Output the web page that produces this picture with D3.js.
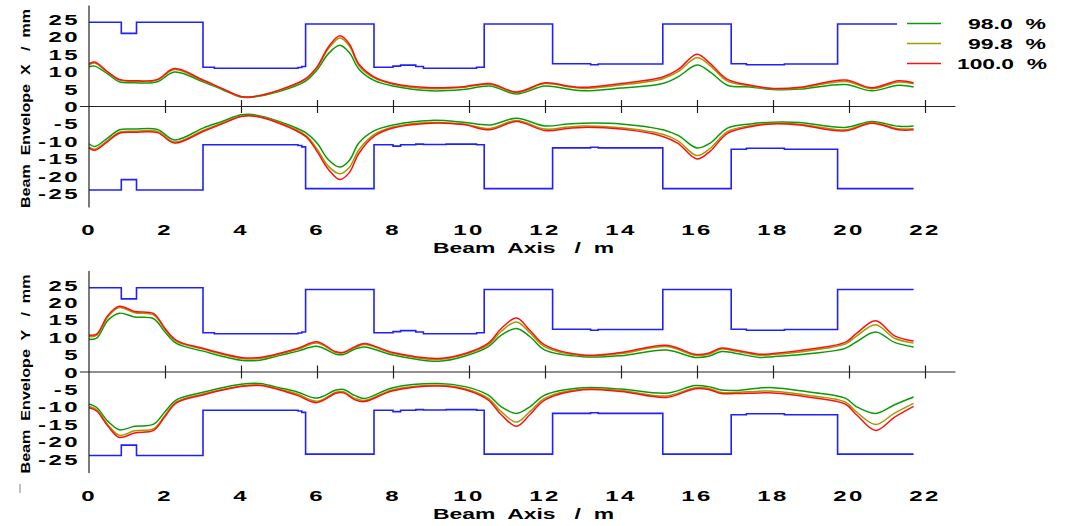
<!DOCTYPE html>
<html>
<head>
<meta charset="utf-8">
<script src="https://cdn.jsdelivr.net/npm/d3@7"></script>
<style>
  body { margin: 0; background: #fff; }
  svg { display: block; }
  text { font-family: "Liberation Sans", Arial, sans-serif; font-weight: bold; fill: #000; white-space: pre; }
</style>
</head>
<body>
<div id="chart"></div>
<script>
// beam envelope, X and Y plane, three emittance fractions

const legendNames = ["98.0  %", "99.8  %", "100.0  %"];
const xTickLabels = [0, 2, 4, 6, 8, 10, 12, 14, 16, 18, 20, 22];
const yTickLabels = [25, 20, 15, 10, 5, 0, -5, -10, -15, -20, -25];

// aperture (step, value holds until next break)
const apS  = [0, 0.85, 1.25, 3.0, 3.3, 5.5, 5.6, 5.7, 7.5, 8.0, 8.2, 8.6, 8.8, 9.4, 10.2, 10.4, 12.2, 13.2, 13.4, 15.1, 16.9, 17.3, 18.3, 19.7, 21.7];
const apUp = [24.2, 21.0, 24.2, 11.3, 11.0, 11.2, 11.5, 23.7, 11.3, 11.6, 11.9, 11.5, 11.0, 11.0, 11.3, 23.7, 12.3, 12.0, 12.2, 23.7, 12.3, 12.0, 12.2, 23.7, 23.7];
const apLo = [-24.0, -21.0, -24.0, -11.0, -11.0, -11.2, -11.6, -23.6, -11.0, -11.4, -11.0, -10.8, -10.9, -10.8, -11.0, -23.6, -11.9, -11.7, -11.9, -23.6, -12.3, -12.0, -12.3, -23.6, -23.6];

// X plane
const sX = [0, 0.15, 0.5, 0.8, 1.2, 1.8, 2.25, 3.0, 3.5, 4.0, 4.3, 5.0, 5.7, 6.0, 6.3, 6.6, 6.85, 7.1, 7.5, 8.0, 9.0, 9.85, 10.55, 11.25, 12.0, 12.6, 13.0, 14.0, 15.1, 15.5, 16.0, 16.35, 16.8, 17.4, 18.0, 18.7, 19.9, 20.6, 21.3, 21.7];
const xUp98  = [11.4, 11.6, 9.3, 7.1, 6.8, 7.1, 9.9, 7.1, 4.9, 2.7, 2.7, 4.3, 7.3, 10.5, 15.2, 17.6, 15.5, 10.8, 7.5, 5.9, 4.5, 4.9, 5.9, 3.6, 5.9, 5.0, 4.5, 5.3, 6.6, 8.5, 11.9, 9.9, 6.1, 5.6, 4.9, 5.0, 6.3, 4.5, 6.1, 5.6];
const xUp998 = [12.0, 12.5, 9.7, 7.6, 7.2, 7.6, 10.6, 7.4, 5.1, 2.8, 2.8, 4.6, 7.8, 11.1, 16.6, 19.7, 17.4, 11.8, 8.2, 6.4, 5.1, 5.5, 6.4, 4.0, 6.6, 5.7, 5.2, 6.2, 8.0, 10.0, 14.0, 11.7, 7.3, 5.9, 5.1, 5.3, 7.2, 5.1, 7.0, 6.5];
const xUp100 = [12.3, 12.8, 9.9, 7.8, 7.4, 7.8, 10.9, 7.6, 5.2, 2.9, 2.8, 4.7, 8.0, 11.4, 17.1, 20.3, 18.0, 12.2, 8.5, 6.6, 5.4, 5.7, 6.6, 4.2, 6.8, 5.9, 5.5, 6.6, 8.5, 10.6, 15.0, 12.3, 7.8, 6.1, 5.2, 5.5, 7.6, 5.4, 7.4, 6.8];
const xLo98  = [-10.7, -11.5, -9.0, -6.7, -6.5, -6.6, -9.6, -6.2, -4.3, -2.4, -2.3, -4.3, -7.5, -10.5, -15.3, -17.4, -15.5, -10.5, -7.0, -5.3, -4.0, -4.5, -5.3, -3.4, -5.6, -5.0, -4.8, -5.0, -6.7, -8.3, -11.9, -10.5, -6.2, -5.0, -4.5, -4.6, -6.0, -4.3, -5.7, -5.6];
const xLo998 = [-11.6, -12.3, -9.7, -7.4, -7.1, -7.2, -10.2, -6.9, -4.8, -2.8, -2.6, -4.6, -8.3, -12.2, -17.2, -19.3, -17.5, -12.5, -8.1, -5.9, -4.6, -5.0, -6.3, -4.0, -6.5, -5.9, -5.6, -6.1, -8.0, -9.9, -14.1, -12.0, -7.2, -5.5, -4.8, -5.1, -6.7, -4.6, -6.4, -6.4];
const xLo100 = [-11.9, -12.6, -10.0, -7.7, -7.4, -7.5, -10.5, -7.2, -5.0, -2.9, -2.7, -4.8, -8.6, -12.9, -18.1, -21.0, -19.0, -13.5, -8.6, -6.2, -4.8, -5.2, -6.7, -4.3, -6.9, -6.3, -6.0, -6.5, -8.6, -10.6, -15.1, -12.8, -7.7, -5.8, -5.0, -5.3, -7.0, -4.8, -6.7, -6.7];

// Y plane
const sY = [0, 0.2, 0.5, 0.8, 1.2, 1.7, 2.0, 2.3, 3.0, 4.0, 4.5, 5.0, 5.5, 6.0, 6.5, 6.7, 7.0, 7.25, 8.0, 9.2, 9.9, 10.5, 10.85, 11.25, 11.6, 12.0, 13.0, 14.0, 15.2, 15.95, 16.3, 16.65, 17.0, 17.65, 18.0, 19.0, 19.9, 20.2, 20.7, 21.2, 21.7];
const yUp98  = [9.4, 9.7, 14.9, 16.9, 15.8, 15.3, 11.5, 8.2, 6.0, 3.4, 3.4, 4.7, 6.0, 7.4, 5.1, 5.0, 6.6, 7.2, 4.9, 3.1, 4.6, 7.2, 10.6, 12.5, 10.2, 6.3, 4.4, 4.7, 6.3, 4.2, 4.5, 5.9, 5.4, 4.2, 4.4, 5.3, 6.8, 8.7, 11.5, 8.5, 7.2];
const yUp998 = [10.2, 10.5, 15.9, 18.5, 17.0, 16.4, 12.2, 8.8, 6.6, 3.9, 3.9, 5.1, 6.5, 8.3, 5.6, 5.5, 7.0, 7.9, 5.4, 3.6, 5.1, 7.8, 11.7, 14.4, 11.3, 7.2, 4.7, 5.3, 7.3, 4.8, 5.1, 6.6, 6.0, 4.8, 5.0, 6.2, 8.0, 10.3, 13.6, 9.7, 8.3];
const yUp100 = [10.6, 10.9, 16.3, 18.9, 17.4, 16.8, 12.5, 9.1, 6.8, 4.2, 4.2, 5.3, 6.8, 8.7, 5.8, 5.7, 7.3, 8.2, 5.6, 3.9, 5.3, 8.2, 12.5, 15.5, 12.0, 7.7, 4.9, 5.6, 7.7, 5.1, 5.4, 6.9, 6.3, 5.1, 5.3, 6.6, 8.5, 11.1, 14.7, 10.4, 8.9];
const yLo98  = [-9.2, -10.2, -14.2, -16.6, -15.6, -15.0, -11.4, -8.0, -5.8, -3.5, -3.3, -4.5, -5.8, -7.5, -5.2, -5.0, -6.8, -7.6, -4.5, -3.3, -4.2, -6.6, -10.0, -11.9, -10.0, -6.6, -4.5, -4.9, -6.1, -3.9, -4.2, -5.2, -5.3, -4.6, -4.5, -5.8, -7.5, -10.0, -11.9, -9.4, -7.2];
const yLo998 = [-9.9, -10.8, -15.2, -18.2, -16.9, -16.3, -12.4, -8.6, -6.3, -4.0, -3.7, -4.9, -6.4, -8.4, -5.8, -5.7, -7.6, -8.2, -5.1, -3.8, -4.8, -7.5, -11.4, -14.4, -11.4, -7.5, -4.9, -5.3, -6.9, -4.5, -4.7, -5.9, -5.9, -5.5, -5.5, -6.8, -8.6, -11.5, -15.1, -11.8, -9.0];
const yLo100 = [-10.3, -11.2, -15.6, -18.8, -17.5, -16.8, -12.8, -8.9, -6.6, -4.2, -3.9, -5.1, -6.8, -8.8, -6.1, -6.0, -8.0, -8.5, -5.4, -4.0, -5.1, -8.0, -12.3, -15.6, -12.3, -8.0, -5.1, -5.6, -7.3, -4.8, -5.0, -6.2, -6.2, -6.0, -6.0, -7.3, -9.2, -12.3, -16.8, -13.0, -9.9];

const colors = ["#0c9a0c", "#a09a00", "#ff1010"];
const apColor = "#2020ff";

const width = 1067, height = 526;
const leftX = 89, rightX = 925;
const panelOff = 265.5;

const svg = d3.select('#chart').append('svg')
    .attr('width', width)
    .attr('height', height);

const x = d3.scaleLinear().domain([0, 22]).range([leftX, rightX]);

const panels = [
    { off: 0, title: "Beam  Envelope  X   /  mm", s: sX,
      up: [xUp98, xUp998, xUp100], lo: [xLo98, xLo998, xLo100] },
    { off: panelOff, title: "Beam  Envelope  Y   /  mm", s: sY,
      up: [yUp98, yUp998, yUp100], lo: [yLo98, yLo998, yLo100] }
];

function stretchText(g, tx, ty, str, anchor, sx) {
    g.append('text')
        .attr('transform', `translate(${tx},${ty}) scale(${sx},1)`)
        .attr('text-anchor', anchor)
        .style('font-size', '15px')
        .style('letter-spacing', '1.5px')
        .text(str);
}

panels.forEach(p => {
    const y = d3.scaleLinear().domain([-25, 25]).range([193.5 + p.off, 19.5 + p.off]);
    const g = svg.append('g');

    // aperture
    const apLine = d3.line()
        .x((d, i) => x(apS[i]))
        .y(d => y(d))
        .curve(d3.curveStepAfter);
    [apUp, apLo].forEach(a => {
        g.append('path')
            .attr('d', apLine(a))
            .attr('fill', 'none')
            .attr('stroke', apColor)
            .attr('stroke-width', 1.6);
    });

    // envelopes
    const envLine = d3.line()
        .x((d, i) => x(p.s[i]))
        .y(d => y(d))
        .curve(d3.curveCatmullRom.alpha(0.5));
    for (let k = 0; k < 3; k++) {
        [p.up[k], p.lo[k]].forEach(arr => {
            g.append('path')
                .attr('d', envLine(arr))
                .attr('fill', 'none')
                .attr('stroke', colors[k])
                .attr('stroke-width', 1.5);
        });
    }

    // zero line + ticks
    g.append('line')
        .attr('x1', x(-0.24)).attr('x2', x(22.8))
        .attr('y1', y(0)).attr('y2', y(0))
        .attr('stroke', '#222').attr('stroke-width', 1.2);

    const xAxis = d3.axisBottom(x)
        .tickValues(d3.range(2, 23, 2))
        .tickSize(13)
        .tickFormat("");
    const ax = g.append('g')
        .attr('transform', `translate(0,${y(0) - 6.5})`)
        .call(xAxis);
    ax.select('.domain').remove();
    ax.selectAll('.tick line').attr('stroke', '#222').attr('stroke-width', 1.2);

    // y axis line
    g.append('line')
        .attr('x1', x(0)).attr('x2', x(0))
        .attr('y1', y(29)).attr('y2', y(-29))
        .attr('stroke', '#222').attr('stroke-width', 1.2);

    yTickLabels.forEach(v => {
        stretchText(g, 80, y(v) + 5.5, v, 'end', 1.6);
    });
    xTickLabels.forEach(v => {
        stretchText(g, x(v), 235 + p.off, v, 'middle', 1.6);
    });

    g.append('text')
        .attr('x', 433).attr('y', 253 + p.off)
        .attr('textLength', 181)
        .attr('lengthAdjust', 'spacingAndGlyphs')
        .style('font-size', '15px')
        .text("Beam  Axis   /  m");

    g.append('text')
        .attr('transform', `translate(30,${208 + p.off}) rotate(-90)`)
        .attr('textLength', 199)
        .attr('lengthAdjust', 'spacingAndGlyphs')
        .style('font-size', '13px')
        .text(p.title);
});

// legend
const leg = svg.append('g');
leg.append('rect')
    .attr('x', 897).attr('y', 5)
    .attr('width', 170).attr('height', 70)
    .attr('fill', '#fff');
const legY = [23.5, 43.5, 63.5];
const legStart = [968, 968, 957];
const legLen = [78, 78, 90];
legendNames.forEach((n, i) => {
    leg.append('line')
        .attr('x1', 907).attr('x2', 941)
        .attr('y1', legY[i]).attr('y2', legY[i])
        .attr('stroke', colors[i]).attr('stroke-width', 1.5);
    leg.append('text')
        .attr('x', legStart[i]).attr('y', legY[i] + 5.5)
        .attr('textLength', legLen[i])
        .attr('lengthAdjust', 'spacingAndGlyphs')
        .style('font-size', '15px')
        .text(n);
});

// small mark at lower left
svg.append('line')
    .attr('x1', 20).attr('x2', 20)
    .attr('y1', 484).attr('y2', 493)
    .attr('stroke', '#999').attr('stroke-width', 1.2);
</script>
</body>
</html>
